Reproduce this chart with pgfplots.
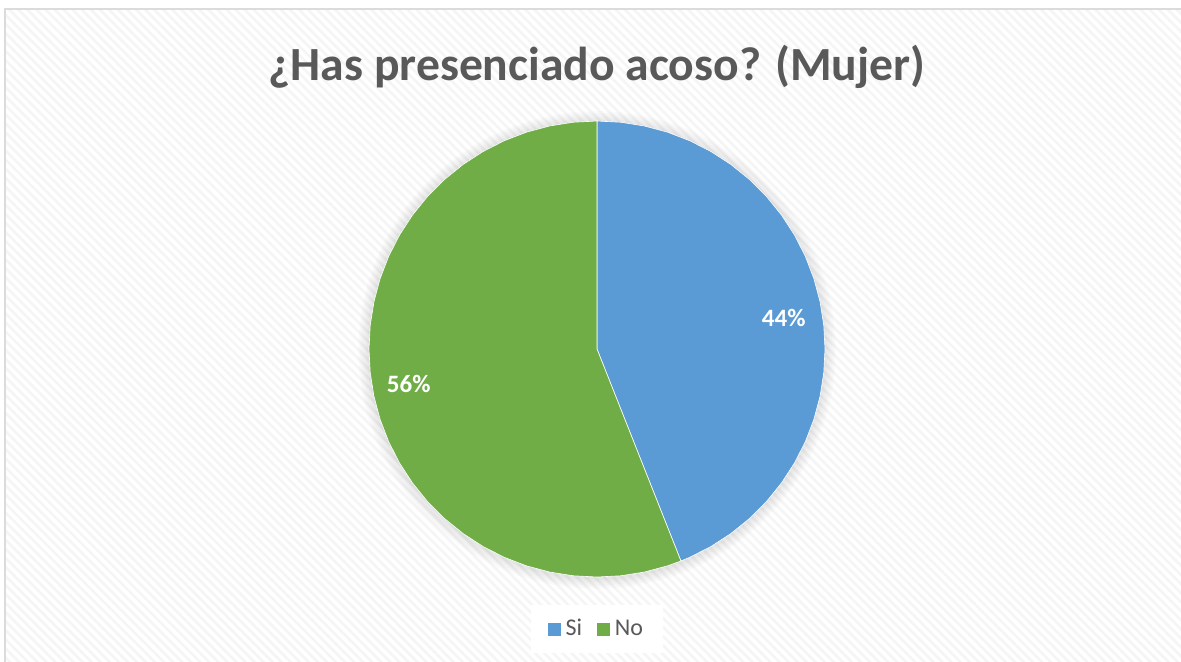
\documentclass[border=0pt]{standalone}
\usepackage{fontspec}
\setmainfont{Carlito}
\usepackage{pgfplots}
\pgfplotsset{compat=1.18}
\usepgfplotslibrary{polar}
\usetikzlibrary{patterns.meta}

\definecolor{siblue}{HTML}{5B9BD5}
\definecolor{nogreen}{HTML}{70AD47}
\definecolor{txtgray}{HTML}{595959}

\begin{document}
\begin{tikzpicture}
% page = 1181x661 px, 1px = 0.5pt
\clip (0,0) rectangle (590.5pt,330.5pt);
\fill[white] (0,0) rectangle (590.5pt,330.5pt);
\fill[pattern={Lines[angle=-45,distance=3.2pt,line width=1.3pt]},pattern color=black!4]
  (2.5pt,-5pt) rectangle (600pt,326pt);
\draw[black!14,line width=1pt] (2.5pt,-5pt) -- (2.5pt,326pt) -- (600pt,326pt);

% soft shadow behind the pie
\foreach \k in {1,...,6} {
  \fill[black,opacity=0.015] (298.5pt,155.5pt) circle ({114pt+\k*0.9pt});
}

\node[font=\bfseries\fontsize{23.8}{28}\selectfont,text=txtgray] at (298.5pt,297pt)
  {¿Has presenciado acoso? (Mujer)};

\begin{polaraxis}[
    at={(298.5pt,156pt)}, anchor=center,
    scale only axis, width=228pt,
    hide axis,
    xmin=0, xmax=360, ymin=0, ymax=1,
    clip=false,
    legend columns=2,
    legend style={at={(0.5,-0.114)}, anchor=center, draw=none, fill=white,
      font=\fontsize{12}{14}\selectfont, text=txtgray,
      inner xsep=8pt, inner ysep=5pt,
      /tikz/every even column/.append style={column sep=5pt}},
    legend image code/.code={\fill[#1] (0pt,-3.5pt) rectangle (7pt,3.5pt);},
]
% Si = 44%, clockwise from 12 o'clock (90 deg) to 90 - 0.44*360 = -68.4 deg
\addplot[fill=siblue, draw=white, line width=0.3pt] coordinates {
  (0,0) (90,1) (84,1) (78,1) (72,1) (66,1) (60,1) (54,1) (48,1) (42,1)
  (36,1) (30,1) (24,1) (18,1) (12,1) (6,1) (0,1) (-6,1) (-12,1) (-18,1)
  (-24,1) (-30,1) (-36,1) (-42,1) (-48,1) (-54,1) (-60,1) (-66,1) (-68.4,1) (0,0)
} \closedcycle;
\addlegendentry{Si}
% No = 56%, from -68.4 deg on round to 90 deg
\addplot[fill=nogreen, draw=white, line width=0.3pt] coordinates {
  (0,0) (90,1) (96,1) (102,1) (108,1) (114,1) (120,1) (126,1) (132,1) (138,1)
  (144,1) (150,1) (156,1) (162,1) (168,1) (174,1) (180,1) (186,1) (192,1)
  (198,1) (204,1) (210,1) (216,1) (222,1) (228,1) (234,1) (240,1) (246,1)
  (252,1) (258,1) (264,1) (270,1) (276,1) (282,1) (288,1) (291.6,1) (0,0)
} \closedcycle;
\addlegendentry{No}

\node[text=white,font=\bfseries\fontsize{12.5}{14}\selectfont] at (axis cs:9.4,0.83) {44\%};
\node[text=white,font=\bfseries\fontsize{12.5}{14}\selectfont] at (axis cs:190.5,0.84) {56\%};
\end{polaraxis}
\end{tikzpicture}
\end{document}
